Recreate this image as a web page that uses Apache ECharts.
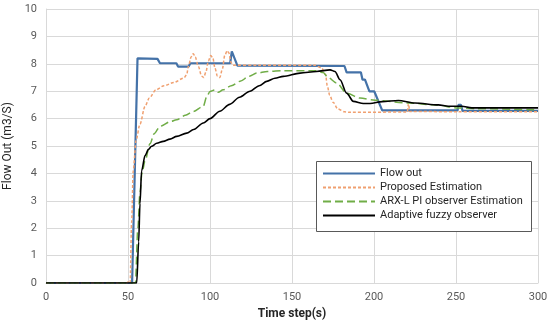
<!DOCTYPE html>
<html><head><meta charset="utf-8">
<script src="https://cdn.jsdelivr.net/npm/echarts@6/dist/echarts.min.js"></script>
<style>html,body{margin:0;padding:0;background:#fff}#c{width:550px;height:323px}</style>
</head><body><div id="c"></div>
<script>
const xTicks = [0, 50, 100, 150, 200, 250, 300];
const yTicks = [0,1,2,3,4,5,6,7,8,9,10];
const seriesNames = ['Flow out', 'Proposed Estimation', 'ARX-L PI observer Estimation', 'Adaptive fuzzy observer'];

const flowT = [0, 52.5, 55.8, 68, 69.5, 79.5, 80.5, 87, 88, 112.3, 113.3, 116.7, 182, 183.3, 192, 193, 194.5, 197.2, 200.2, 205, 251, 251.5, 253, 254, 300];
const flowV = [0, 0, 8.2, 8.18, 8.02, 8.02, 7.9, 7.9, 8.02, 8.02, 8.45, 7.93, 7.92, 7.69, 7.69, 7.42, 7.42, 6.99, 6.99, 6.3, 6.3, 6.5, 6.5, 6.28, 6.28];

const propT = [0, 49, 50.5, 51.3, 52.2, 53.2, 54.9, 57.3, 60.4, 63, 67, 72, 78, 84, 85.8, 86.8, 88.5, 89.8, 91, 92.9, 94.9, 96.2, 97.5, 99, 100.5, 101.8, 103, 104.5, 106, 107.5, 109, 110.5, 111.5, 112.8, 114, 130, 164, 168, 170.5, 171.5, 173, 175, 178, 182, 185, 220.3, 221, 221.8, 250, 300];
const propV = [0, 0, 0.05, 0, 2.2, 4.1, 5.2, 5.8, 6.45, 6.75, 7.05, 7.2, 7.32, 7.48, 7.6, 7.9, 8.25, 8.37, 8.25, 7.9, 7.55, 7.5, 7.7, 8.1, 8.3, 8.2, 7.85, 7.55, 7.5, 7.8, 8.3, 8.48, 8.4, 8.05, 7.95, 7.95, 7.95, 7.85, 7.6, 7.2, 6.85, 6.6, 6.35, 6.25, 6.23, 6.24, 6.55, 6.26, 6.25, 6.25];

const arxT = [0, 54.5, 56, 57.3, 58.5, 60.4, 63.4, 66, 69.5, 75.6, 79.7, 85, 89.8, 95.9, 98, 100, 103, 105, 108, 113, 118.3, 124, 128.5, 135, 145, 165, 169, 172, 177.2, 183.3, 191.5, 200.6, 220.9, 237.2, 251.4, 261.6, 300];
const arxV = [0, 0, 2.0, 3.3, 4.0, 4.45, 5.08, 5.45, 5.72, 5.88, 5.96, 6.12, 6.26, 6.45, 6.8, 6.99, 7.05, 6.96, 7.05, 7.2, 7.36, 7.55, 7.66, 7.72, 7.75, 7.75, 7.68, 7.5, 7.3, 6.93, 6.75, 6.67, 6.57, 6.5, 6.39, 6.36, 6.32];

const fuzzyT = [0, 55.3, 56.5, 57.3, 58.3, 60.4, 62.5, 64.4, 67.5, 71.5, 75.6, 79.7, 85.8, 90, 95.9, 100, 106, 112, 118, 124.4, 130, 134.6, 139.6, 144.7, 154.9, 165, 173.2, 176.2, 179.3, 183.3, 187.4, 193.5, 197.6, 205, 214.8, 225, 239.2, 245.3, 253.5, 259.6, 300];
const fuzzyV = [0, 0, 1.5, 2.9, 4.1, 4.65, 4.88, 4.99, 5.1, 5.17, 5.25, 5.35, 5.47, 5.6, 5.84, 6.0, 6.27, 6.52, 6.78, 7.0, 7.2, 7.36, 7.47, 7.54, 7.66, 7.72, 7.78, 7.72, 7.42, 6.93, 6.63, 6.55, 6.55, 6.62, 6.66, 6.57, 6.5, 6.45, 6.45, 6.39, 6.39];

const zip = (t, v) => t.map((x, i) => [x, v[i]]);
const font = 'Roboto, "Liberation Sans", sans-serif';

const chart = echarts.init(document.getElementById('c'), null, {renderer: 'canvas'});
chart.setOption({
  animation: false,
  backgroundColor: '#fff',
  textStyle: {fontFamily: font},
  grid: {left: 46, right: 12, top: 9, bottom: 40, containLabel: false, outerBoundsMode: 'none'},
  xAxis: {
    type: 'value', min: xTicks[0], max: xTicks[xTicks.length - 1], interval: 50,
    name: 'Time step(s)', nameLocation: 'middle', nameGap: 24,
    nameTextStyle: {fontSize: 12, fontWeight: 'bold', color: '#262626', fontFamily: font},
    axisLine: {show: true, lineStyle: {color: '#d9d9d9', width: 1}},
    axisTick: {show: false},
    axisLabel: {fontSize: 11, color: '#595959', margin: 9, fontFamily: font},
    splitLine: {show: true, lineStyle: {color: '#d9d9d9', width: 1}}
  },
  yAxis: {
    type: 'value', min: yTicks[0], max: yTicks[yTicks.length - 1], interval: 1,
    name: 'Flow Out (m3/S)', nameLocation: 'middle', nameGap: 26, nameRotate: 90,
    nameTextStyle: {fontSize: 12, color: '#262626', fontFamily: font},
    axisLine: {show: true, lineStyle: {color: '#d9d9d9', width: 1}},
    axisTick: {show: false},
    axisLabel: {fontSize: 11, color: '#595959', margin: 9, fontFamily: font},
    splitLine: {show: true, lineStyle: {color: '#d9d9d9', width: 1}}
  },
  graphic: [{
    type: 'rect', z: 10, left: 316, top: 161,
    shape: {width: 215, height: 70},
    style: {fill: '#fff', stroke: '#595959', lineWidth: 1}
  }],
  legend: {
    z: 20, orient: 'vertical', left: 322, top: 168, padding: 0,
    itemWidth: 52, itemHeight: 12, itemGap: 3,
    itemStyle: {opacity: 0},
    lineStyle: {width: 2},
    data: seriesNames,
    textStyle: {fontSize: 11, color: '#262626', fontFamily: font, padding: [0, 0, 0, 0]}
  },
  series: [
    {name: seriesNames[0], type: 'line', symbol: 'none', data: zip(flowT, flowV),
      lineStyle: {color: '#4472a8', width: 2.2}, itemStyle: {color: '#4472a8'}, z: 2},
    {name: seriesNames[1], type: 'line', symbol: 'none', smooth: 0.3, smoothMonotone: 'x', data: zip(propT, propV),
      lineStyle: {color: '#f0a070', width: 1.5, type: [3, 2]}, itemStyle: {color: '#f0a070'}, z: 3},
    {name: seriesNames[2], type: 'line', symbol: 'none', smooth: 0.3, smoothMonotone: 'x', data: zip(arxT, arxV),
      lineStyle: {color: '#70ad47', width: 1.5, type: [8, 4]}, itemStyle: {color: '#70ad47'}, z: 4},
    {name: seriesNames[3], type: 'line', symbol: 'none', smooth: 0.3, smoothMonotone: 'x', data: zip(fuzzyT, fuzzyV),
      lineStyle: {color: '#000000', width: 1.6}, itemStyle: {color: '#000000'}, z: 5}
  ]
});
</script></body></html>
